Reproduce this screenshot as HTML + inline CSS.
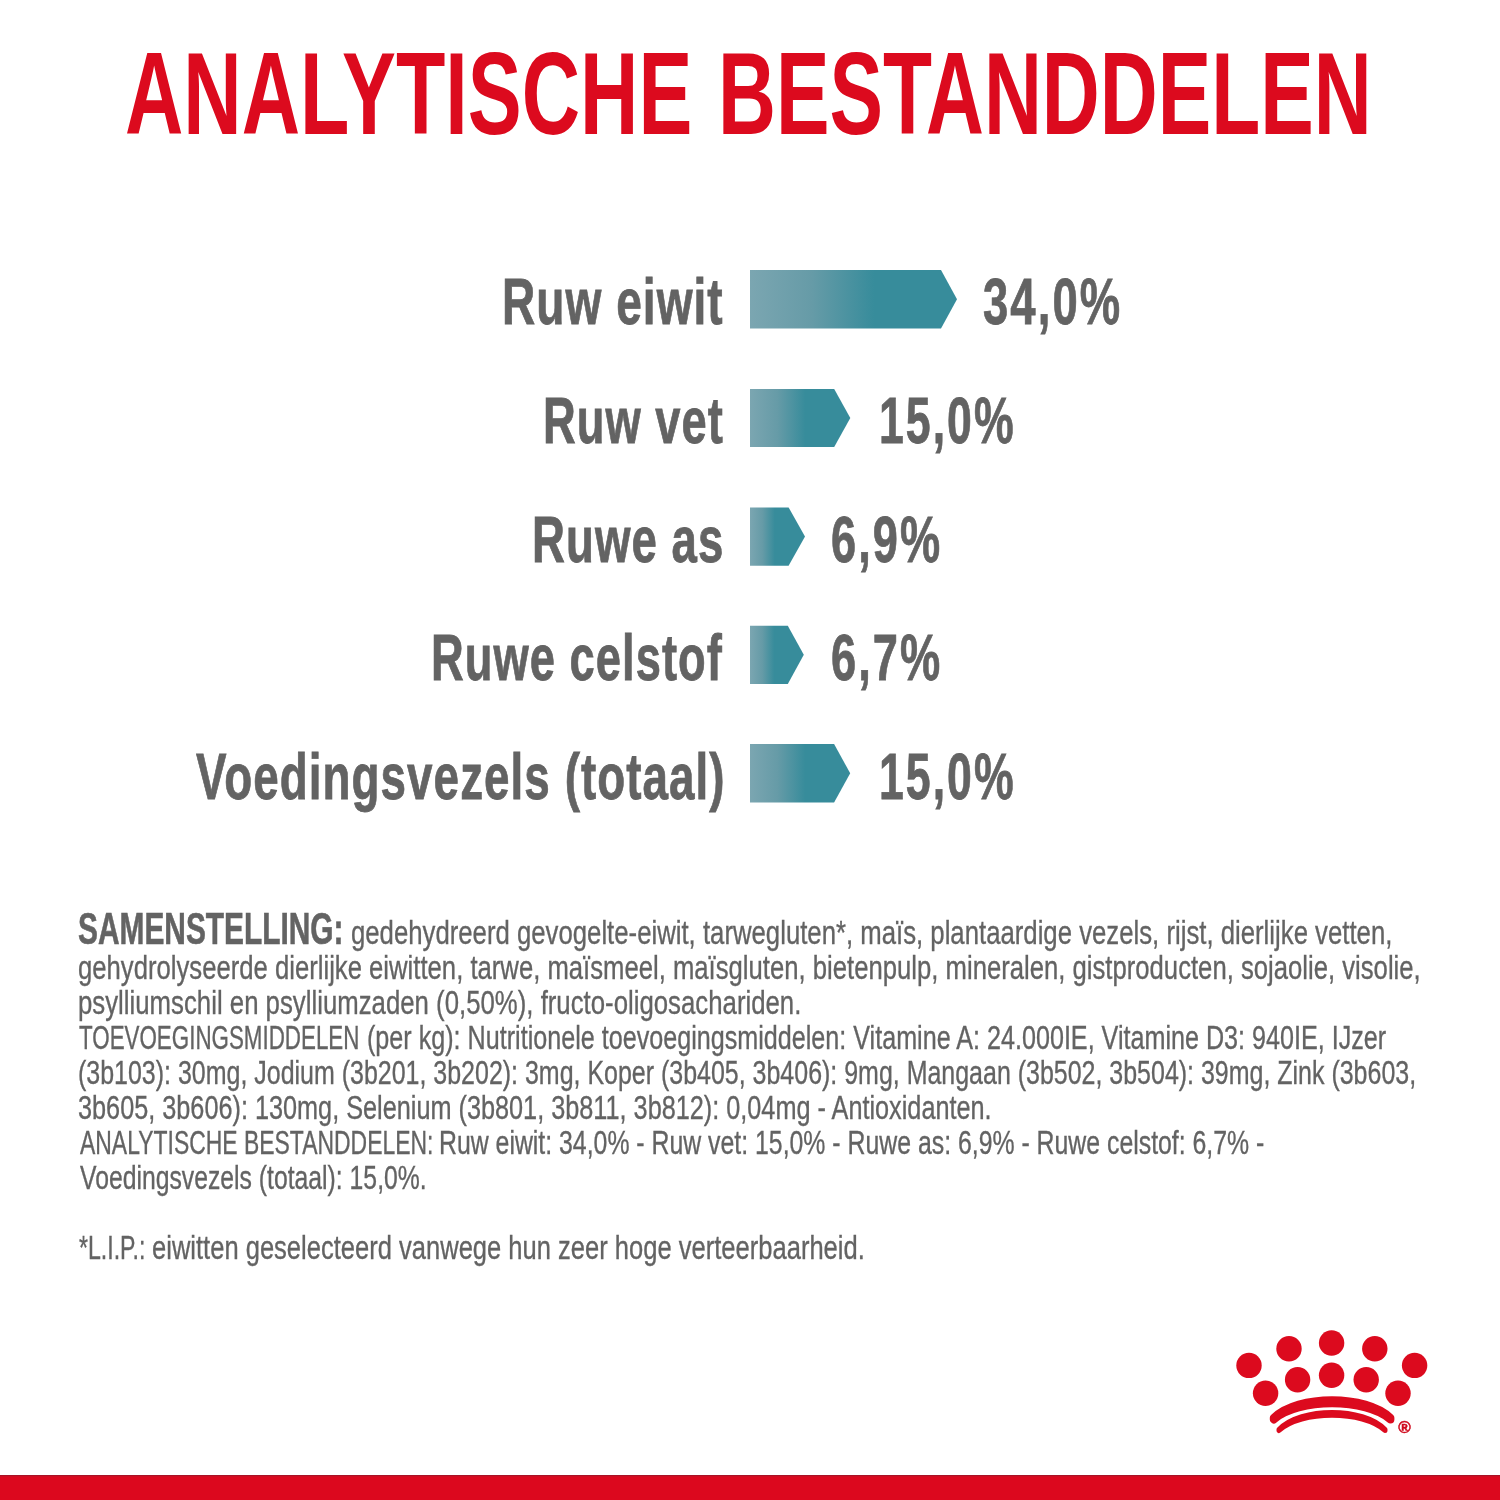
<!DOCTYPE html>
<html lang="nl">
<head>
<meta charset="utf-8">
<title>Analytische bestanddelen</title>
<style>
html,body{margin:0;padding:0;background:#fff}
body{width:1500px;height:1500px;position:relative;overflow:hidden;font-family:"Liberation Sans",sans-serif}
.t{position:absolute;white-space:nowrap;line-height:1;transform-origin:0 0;margin:0;padding:0}
.title{color:#dc0a1e;font-weight:700}
.lab,.val,.hd{color:#636363;font-weight:700}
.p{color:#636363;font-weight:400}
.bars{position:absolute;left:0;top:0}
.logo{position:absolute;left:1200px;top:1300px}
.foot{position:absolute;left:0;top:1475px;width:1500px;height:25px;background:linear-gradient(#a91226 0,#a91226 1px,#cb0f22 1px,#cb0f22 2px,#dc081e 2px)}
</style>
</head>
<body>
<div class="t title" style="left:125.47px;top:34.55px;font-size:117.5px;transform:scaleX(0.6879)">ANALYTISCHE</div>
<div class="t title" style="left:718.16px;top:34.55px;font-size:117.5px;transform:scaleX(0.6827)">BESTANDDELEN</div>
<div class="t lab" style="left:501.96px;top:269.40px;font-size:65.6px;transform:scaleX(0.7018);-webkit-text-stroke:0.8px #636363;letter-spacing:1.5px">Ruw eiwit</div>
<div class="t val" style="left:983.41px;top:269.40px;font-size:65.6px;transform:scaleX(0.6925);-webkit-text-stroke:0.8px #636363;letter-spacing:3px">34,0%</div>
<div class="t lab" style="left:543.38px;top:387.98px;font-size:65.6px;transform:scaleX(0.6906);-webkit-text-stroke:0.8px #636363;letter-spacing:1.5px">Ruw vet</div>
<div class="t val" style="left:878.70px;top:387.98px;font-size:65.6px;transform:scaleX(0.6794);-webkit-text-stroke:0.8px #636363;letter-spacing:3px">15,0%</div>
<div class="t lab" style="left:532.48px;top:507.00px;font-size:65.6px;transform:scaleX(0.6957);-webkit-text-stroke:0.8px #636363;letter-spacing:1.5px">Ruwe as</div>
<div class="t val" style="left:830.62px;top:507.00px;font-size:65.6px;transform:scaleX(0.6880);-webkit-text-stroke:0.8px #636363;letter-spacing:3px">6,9%</div>
<div class="t lab" style="left:431.13px;top:624.78px;font-size:65.6px;transform:scaleX(0.6907);-webkit-text-stroke:0.8px #636363;letter-spacing:1.5px">Ruwe celstof</div>
<div class="t val" style="left:831.02px;top:624.78px;font-size:65.6px;transform:scaleX(0.6891);-webkit-text-stroke:0.8px #636363;letter-spacing:3px">6,7%</div>
<div class="t lab" style="left:195.98px;top:744.20px;font-size:65.6px;transform:scaleX(0.6982);-webkit-text-stroke:0.8px #636363;letter-spacing:1.5px">Voedingsvezels (totaal)</div>
<div class="t val" style="left:878.70px;top:744.20px;font-size:65.6px;transform:scaleX(0.6794);-webkit-text-stroke:0.8px #636363;letter-spacing:3px">15,0%</div>
<div class="t hd" style="left:77.89px;top:905.90px;font-size:45.2px;transform:scaleX(0.6611);-webkit-text-stroke:0.6px #636363">SAMENSTELLING:</div>
<div class="t p" style="left:351.15px;top:915.80px;font-size:33.4px;transform:scaleX(0.7707);-webkit-text-stroke:0.35px #636363">gedehydreerd gevogelte-eiwit, tarwegluten*, maïs, plantaardige vezels, rijst, dierlijke vetten,</div>
<div class="t p" style="left:78.19px;top:950.80px;font-size:33.4px;transform:scaleX(0.7688);-webkit-text-stroke:0.35px #636363">gehydrolyseerde dierlijke eiwitten, tarwe, maïsmeel, maïsgluten, bietenpulp, mineralen, gistproducten, sojaolie, visolie,</div>
<div class="t p" style="left:78.25px;top:985.60px;font-size:33.4px;transform:scaleX(0.7718);-webkit-text-stroke:0.35px #636363">psylliumschil en psylliumzaden (0,50%), fructo-oligosachariden.</div>
<div class="t p" style="left:79.18px;top:1020.60px;font-size:33.4px;transform:scaleX(0.6697);-webkit-text-stroke:0.35px #636363">TOEVOEGINGSMIDDELEN</div>
<div class="t p" style="left:367.44px;top:1020.60px;font-size:33.4px;transform:scaleX(0.7529);-webkit-text-stroke:0.35px #636363">(per kg): Nutritionele toevoegingsmiddelen: Vitamine A: 24.000IE, Vitamine D3: 940IE, IJzer</div>
<div class="t p" style="left:78.46px;top:1055.60px;font-size:33.4px;transform:scaleX(0.7478);-webkit-text-stroke:0.35px #636363">(3b103): 30mg, Jodium (3b201, 3b202): 3mg, Koper (3b405, 3b406): 9mg, Mangaan (3b502, 3b504): 39mg, Zink (3b603,</div>
<div class="t p" style="left:78.39px;top:1090.60px;font-size:33.4px;transform:scaleX(0.7564);-webkit-text-stroke:0.35px #636363">3b605, 3b606): 130mg, Selenium (3b801, 3b811, 3b812): 0,04mg - Antioxidanten.</div>
<div class="t p" style="left:79.92px;top:1126.10px;font-size:33.4px;transform:scaleX(0.6868);-webkit-text-stroke:0.35px #636363">ANALYTISCHE BESTANDDELEN:</div>
<div class="t p" style="left:438.97px;top:1126.10px;font-size:33.4px;transform:scaleX(0.7437);-webkit-text-stroke:0.35px #636363">Ruw eiwit: 34,0% - Ruw vet: 15,0% - Ruwe as: 6,9% - Ruwe celstof: 6,7% -</div>
<div class="t p" style="left:79.78px;top:1160.80px;font-size:33.4px;transform:scaleX(0.7411);-webkit-text-stroke:0.35px #636363">Voedingsvezels (totaal): 15,0%.</div>
<div class="t p" style="left:78.93px;top:1230.60px;font-size:33.4px;transform:scaleX(0.6921);-webkit-text-stroke:0.35px #636363">*L.I.P.:</div>
<div class="t p" style="left:151.73px;top:1230.60px;font-size:33.4px;transform:scaleX(0.7649);-webkit-text-stroke:0.35px #636363">eiwitten geselecteerd vanwege hun zeer hoge verteerbaarheid.</div>
<svg class="bars" width="1500" height="900" viewBox="0 0 1500 900">
<defs>
<linearGradient id="g0" gradientUnits="userSpaceOnUse" x1="750" y1="0" x2="957" y2="0"><stop offset="0" stop-color="#7ba6b1"/><stop offset="0.300" stop-color="#669ba7"/><stop offset="0.6" stop-color="#378c9b"/><stop offset="1" stop-color="#378c9b"/></linearGradient>
<linearGradient id="g1" gradientUnits="userSpaceOnUse" x1="750" y1="0" x2="850.3" y2="0"><stop offset="0" stop-color="#7ba6b1"/><stop offset="0.275" stop-color="#669ba7"/><stop offset="0.55" stop-color="#378c9b"/><stop offset="1" stop-color="#378c9b"/></linearGradient>
<linearGradient id="g2" gradientUnits="userSpaceOnUse" x1="750" y1="0" x2="805" y2="0"><stop offset="0" stop-color="#7ba6b1"/><stop offset="0.225" stop-color="#669ba7"/><stop offset="0.45" stop-color="#378c9b"/><stop offset="1" stop-color="#378c9b"/></linearGradient>
<linearGradient id="g3" gradientUnits="userSpaceOnUse" x1="750" y1="0" x2="803.8" y2="0"><stop offset="0" stop-color="#7ba6b1"/><stop offset="0.225" stop-color="#669ba7"/><stop offset="0.45" stop-color="#378c9b"/><stop offset="1" stop-color="#378c9b"/></linearGradient>
<linearGradient id="g4" gradientUnits="userSpaceOnUse" x1="750" y1="0" x2="850.2" y2="0"><stop offset="0" stop-color="#7ba6b1"/><stop offset="0.275" stop-color="#669ba7"/><stop offset="0.55" stop-color="#378c9b"/><stop offset="1" stop-color="#378c9b"/></linearGradient>
</defs>
<polygon fill="url(#g0)" points="750,270.1 941,270.1 957,299.30 941,328.50 750,328.50"/>
<polygon fill="url(#g1)" points="750,388.9 834.2,388.9 850.3,418.00 834.2,447.10 750,447.10"/>
<polygon fill="url(#g2)" points="750,507.4 788.6,507.4 805,536.55 788.6,565.70 750,565.70"/>
<polygon fill="url(#g3)" points="750,625.7 787.8,625.7 803.8,654.80 787.8,683.90 750,683.90"/>
<polygon fill="url(#g4)" points="750,744.1 834.1,744.1 850.2,773.30 834.1,802.50 750,802.50"/>
</svg>
<svg class="logo" width="300" height="175" viewBox="0 0 300 175">
<g fill="#dc0a1e">
<circle cx="89" cy="48.8" r="12.7"/><circle cx="131.6" cy="43.0" r="12.7"/><circle cx="174.8" cy="48.8" r="12.7"/>
<circle cx="49" cy="65.4" r="12.7"/><circle cx="214.6" cy="65.4" r="12.7"/>
<circle cx="97.6" cy="79.8" r="12.7"/><circle cx="131.6" cy="75.2" r="12.7"/><circle cx="166.2" cy="79.8" r="12.7"/>
<circle cx="65.6" cy="93.2" r="12.7"/><circle cx="198" cy="93.2" r="12.7"/>
</g>
<g fill="#dc0a1e" stroke="#dc0a1e" stroke-linejoin="round">
<path stroke-width="8" d="M73.8,117.8 C98,94.3 166,94.3 190.4,117.8 L190.4,119.4 C166,98 98,98 73.8,119.4 Z"/>
<path stroke-width="5" d="M79,129.5 C101,106.8 163,106.8 185,129.5 L185,130.5 C163,110.2 101,110.2 79,130.5 Z"/>
</g>
<text x="204.6" y="133.1" font-family="Liberation Sans, sans-serif" font-weight="700" font-size="17" fill="#cf0a1d" stroke="#cf0a1d" stroke-width="0.5" text-anchor="middle">®</text>
</svg>

<div class="foot"></div>
</body>
</html>
